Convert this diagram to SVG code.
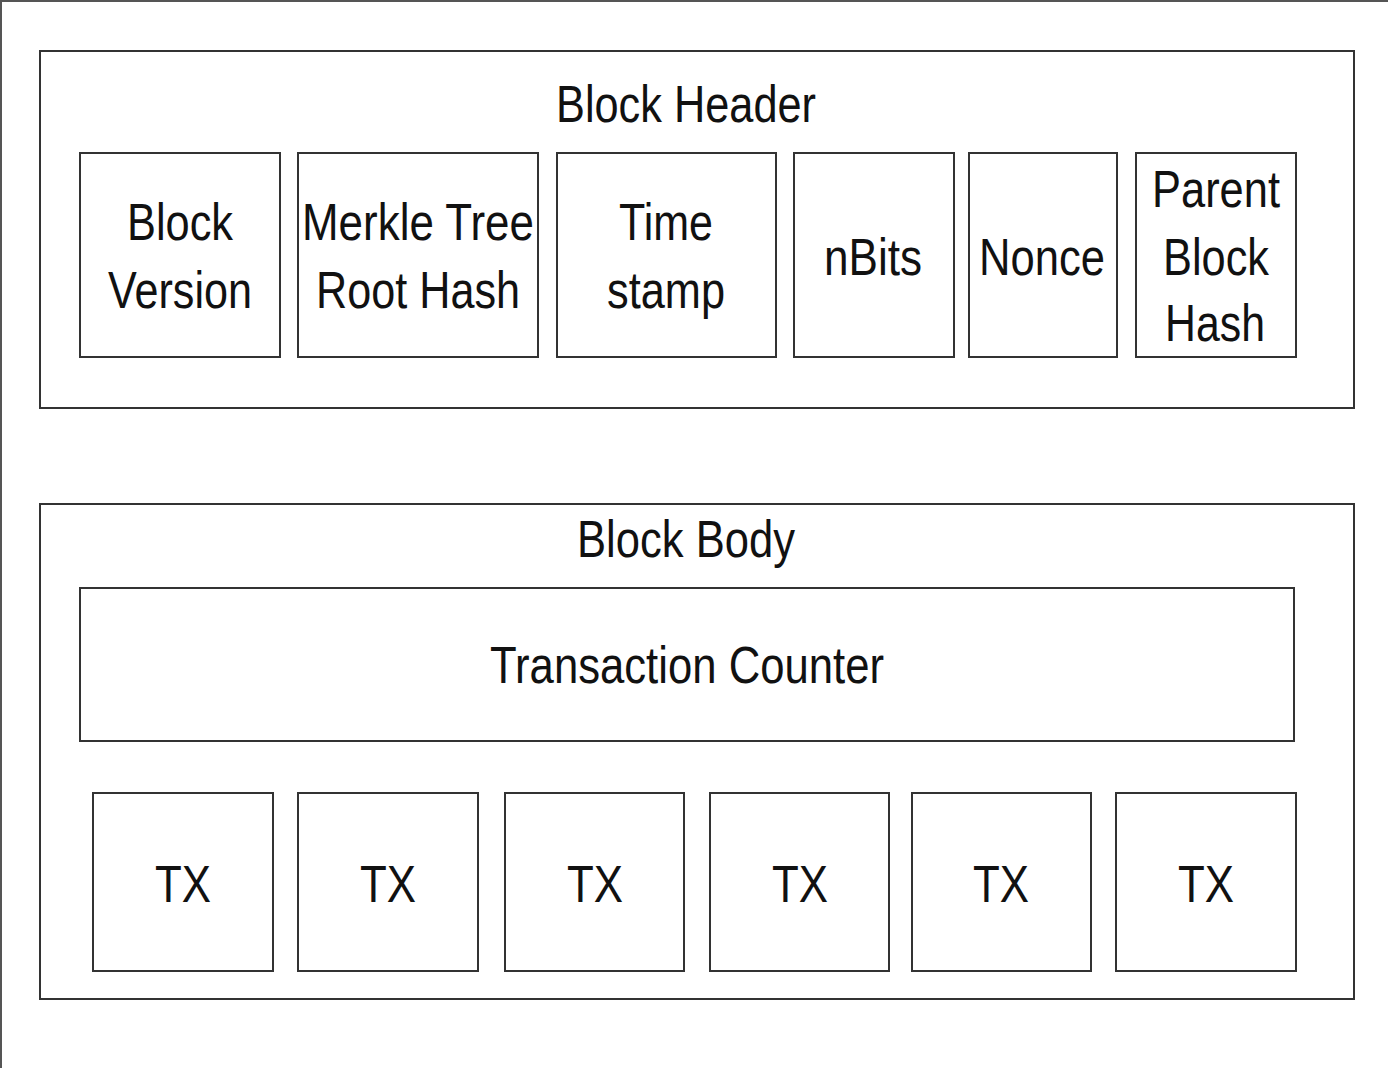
<svg xmlns="http://www.w3.org/2000/svg" width="1388" height="1068" viewBox="0 0 1388 1068">
<style>
rect{fill:#fff;stroke:#333;stroke-width:2}
text{font-family:"Liberation Sans",Arial,sans-serif;font-size:52px;fill:#111;text-anchor:middle}
</style>
<rect x="1" y="1" width="1400" height="1100" style="stroke:#555"/>
<g id="header"><rect x="40" y="51" width="1314" height="357"/><text x="686" y="122" textLength="260" lengthAdjust="spacingAndGlyphs">Block Header</text></g>
<g id="version"><rect x="80" y="153" width="200" height="204"/><text x="180" y="240" textLength="106" lengthAdjust="spacingAndGlyphs">Block</text><text x="180" y="308" textLength="144" lengthAdjust="spacingAndGlyphs">Version</text></g>
<g id="merkle"><rect x="298" y="153" width="240" height="204"/><text x="418" y="240" textLength="232" lengthAdjust="spacingAndGlyphs">Merkle Tree</text><text x="418" y="308" textLength="204" lengthAdjust="spacingAndGlyphs">Root Hash</text></g>
<g id="time"><rect x="557" y="153" width="219" height="204"/><text x="666" y="240" textLength="94" lengthAdjust="spacingAndGlyphs">Time</text><text x="666" y="308" textLength="118" lengthAdjust="spacingAndGlyphs">stamp</text></g>
<g id="nbits"><rect x="794" y="153" width="160" height="204"/><text x="873" y="275" textLength="98" lengthAdjust="spacingAndGlyphs">nBits</text></g>
<g id="nonce"><rect x="969" y="153" width="148" height="204"/><text x="1042" y="275" textLength="126" lengthAdjust="spacingAndGlyphs">Nonce</text></g>
<g id="parent"><rect x="1136" y="153" width="160" height="204"/><text x="1216" y="207" textLength="128" lengthAdjust="spacingAndGlyphs">Parent</text><text x="1216" y="275" textLength="106" lengthAdjust="spacingAndGlyphs">Block</text><text x="1215" y="341" textLength="100" lengthAdjust="spacingAndGlyphs">Hash</text></g>
<g id="body"><rect x="40" y="504" width="1314" height="495"/><text x="686" y="557" textLength="218" lengthAdjust="spacingAndGlyphs">Block Body</text></g>
<g id="counter"><rect x="80" y="588" width="1214" height="153"/><text x="687" y="683" textLength="394" lengthAdjust="spacingAndGlyphs">Transaction Counter</text></g>
<g id="tx1"><rect x="93" y="793" width="180" height="178"/><text x="183" y="902" textLength="56" lengthAdjust="spacingAndGlyphs">TX</text></g>
<g id="tx2"><rect x="298" y="793" width="180" height="178"/><text x="388" y="902" textLength="56" lengthAdjust="spacingAndGlyphs">TX</text></g>
<g id="tx3"><rect x="505" y="793" width="179" height="178"/><text x="595" y="902" textLength="56" lengthAdjust="spacingAndGlyphs">TX</text></g>
<g id="tx4"><rect x="710" y="793" width="179" height="178"/><text x="800" y="902" textLength="56" lengthAdjust="spacingAndGlyphs">TX</text></g>
<g id="tx5"><rect x="912" y="793" width="179" height="178"/><text x="1001" y="902" textLength="56" lengthAdjust="spacingAndGlyphs">TX</text></g>
<g id="tx6"><rect x="1116" y="793" width="180" height="178"/><text x="1206" y="902" textLength="56" lengthAdjust="spacingAndGlyphs">TX</text></g>
<g id="connectors"/>
</svg>
